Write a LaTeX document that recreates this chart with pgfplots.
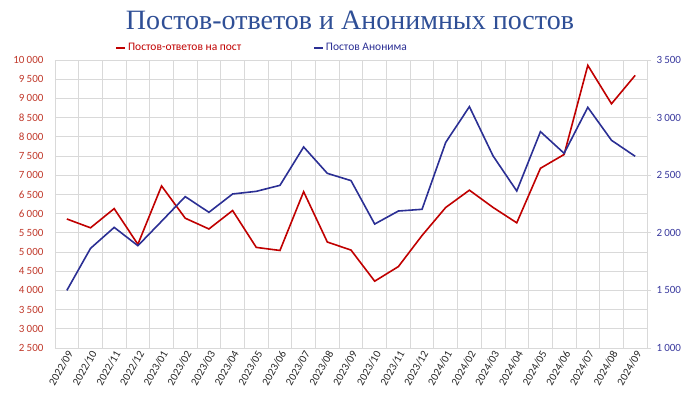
\documentclass[border=0pt]{standalone}
\usepackage{pgfplots}
\pgfplotsset{compat=1.18}
\usepackage{pgfplotstable}
\usepackage{fontspec}
\setmainfont{Carlito}
\newfontfamily\titlefont{Liberation Serif}
\definecolor{redl}{HTML}{C00000}
\definecolor{bluel}{HTML}{2B2F94}
\definecolor{redt}{HTML}{C0392B}
\definecolor{bluet}{HTML}{3A3A9E}
\definecolor{titlec}{HTML}{2F4F96}
\definecolor{gridc}{HTML}{D9D9D9}

\pgfplotstableread{
x red blue
0 5860 1500
1 5630 1865
2 6130 2047
3 5200 1888
4 6720 2100
5 5880 2314
6 5600 2178
7 6080 2337
8 5120 2360
9 5040 2412
10 6570 2745
11 5260 2516
12 5050 2453
13 4240 2076
14 4620 2189
15 5430 2204
16 6160 2785
17 6610 3095
18 6160 2667
19 5760 2363
20 7180 2878
21 7540 2690
22 9860 3089
23 8860 2803
24 9600 2664
}\data

\begin{document}
\begin{tikzpicture}
\useasboundingbox (-55pt,-51pt) rectangle (645pt,348pt);
\begin{axis}[
  scale only axis, width=592pt, height=288pt,
  xmin=-0.5, xmax=24.5, ymin=2500, ymax=10000,
  xtick={0,...,24},
  xticklabels={2022/09,2022/10,2022/11,2022/12,2023/01,2023/02,2023/03,2023/04,2023/05,2023/06,2023/07,2023/08,2023/09,2023/10,2023/11,2023/12,2024/01,2024/02,2024/03,2024/04,2024/05,2024/06,2024/07,2024/08,2024/09},
  minor xtick={-0.5,0.5,...,24.5},
  xminorgrids=true, ymajorgrids=true,
  ytick distance=500, scaled y ticks=false,
  grid style={gridc, line width=0.8pt},
  minor grid style={gridc, line width=0.8pt},
  axis line style={gridc, line width=0.8pt},
  major tick length=0pt, minor tick length=0pt,
  /pgf/number format/assume math mode=true,
  /pgf/number format/1000 sep={\kern0.2em},
  yticklabel style={font=\fontsize{11}{12}\selectfont, text=redt, xshift=-8pt},
  xticklabel style={font=\fontsize{11}{12}\selectfont, text=black!85, rotate=60, anchor=east, xshift=2pt, yshift=-5pt},
]
\addplot[redl, line width=1.6pt] table[x=x, y=red] {\data};
\end{axis}
\begin{axis}[
  scale only axis, width=592pt, height=288pt,
  xmin=-0.5, xmax=24.5, ymin=1000, ymax=3500,
  axis x line=none, axis y line*=right,
  ytick distance=500, scaled y ticks=false,
  axis line style={gridc, line width=0.8pt},
  tick align=outside, major tick length=4pt,
  ytick style={gridc, line width=0.8pt},
  /pgf/number format/assume math mode=true,
  /pgf/number format/1000 sep={\kern0.2em},
  yticklabel style={font=\fontsize{11}{12}\selectfont, text=bluet, xshift=2pt},
  legend style={at={(axis description cs:0.35,1.042)}, anchor=center, draw=none, fill=none,
    font=\fontsize{11.5}{13}\selectfont, legend columns=2,
    /tikz/every even column/.append style={column sep=70pt}},
  legend image code/.code={\draw[#1] (0pt,0pt) -- (9pt,0pt);},
]
\addlegendimage{redl, line width=1.6pt}
\addlegendentry{\textcolor{redl}{Постов-ответов на пост}}
\addplot[bluel, line width=1.6pt] table[x=x, y=blue] {\data};
\addlegendentry{\textcolor{bluel}{Постов Анонима}}
\end{axis}
\node[text=titlec, font=\titlefont\fontsize{28}{32}\selectfont] at (295pt,328pt) {Постов-ответов и Анонимных постов};
\end{tikzpicture}
\end{document}
